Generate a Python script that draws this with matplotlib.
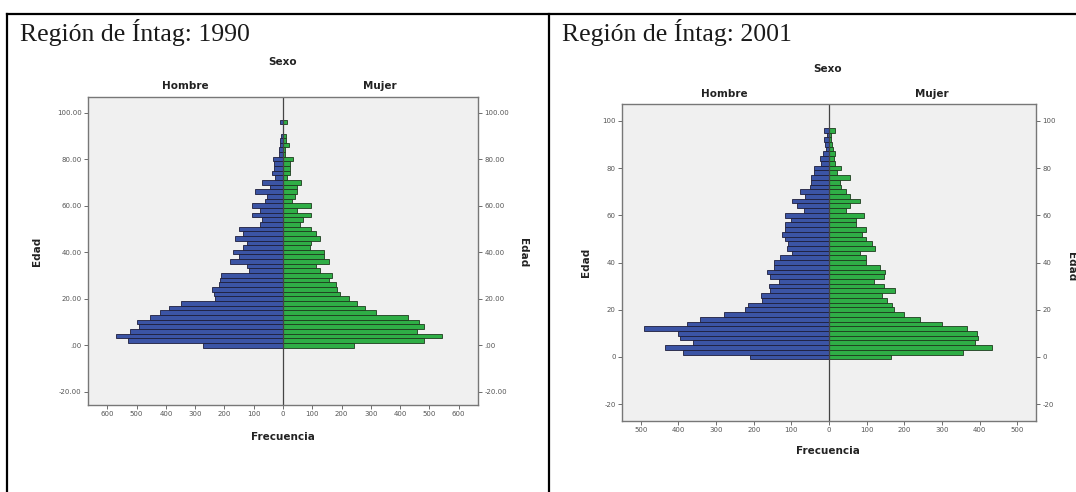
import numpy as np
import matplotlib
matplotlib.use('Agg')
import matplotlib.pyplot as plt
from matplotlib.lines import Line2D

# edades (centro de cada barra, intervalos de 2 años)
edades = list(range(0, 98, 2))

# Region de Intag 1990
hombre_1990 = [273, 529, 570, 524, 493, 498, 453, 419, 390, 350,
               233, 234, 241, 217, 214, 212, 117, 123, 180, 151,
               171, 137, 123, 165, 137, 151, 77, 72, 106, 77,
               106, 60, 55, 97, 43, 72, 26, 38, 30, 32,
               34, 15, 15, 11, 9, 7, 0, 0, 9]
mujer_1990 = [241, 483, 543, 457, 483, 463, 427, 317, 281, 253,
              224, 196, 184, 182, 156, 167, 127, 114, 156, 139,
              141, 91, 96, 127, 114, 97, 57, 68, 97, 48,
              97, 31, 42, 48, 48, 63, 14, 23, 25, 23,
              34, 8, 8, 19, 10, 10, 0, 0, 14]

# Region de Intag 2001
hombre_2001 = [209, 388, 437, 362, 397, 402, 491, 378, 344, 280,
               223, 214, 178, 181, 156, 159, 134, 158, 165, 145,
               145, 129, 98, 112, 110, 116, 125, 118, 116, 101,
               116, 67, 85, 98, 63, 78, 50, 48, 48, 39,
               41, 21, 25, 16, 7, 10, 12, 5, 14]
mujer_2001 = [165, 356, 434, 387, 395, 392, 367, 300, 243, 200,
              172, 168, 154, 141, 176, 145, 119, 145, 150, 135,
              98, 99, 83, 123, 114, 97, 88, 98, 73, 73,
              92, 46, 57, 82, 57, 44, 32, 30, 57, 21,
              32, 17, 12, 15, 11, 8, 5, 4, 17]

azul = '#3b54a5'
verde = '#2fae46'
W, H = 1076, 492

fig = plt.figure(figsize=(W / 100, H / 100), dpi=100)


def px(x, y):
    return x / W, 1 - y / H


def piramide(rect, hombre, mujer, xmax, xticks, ylim, fmt):
    ax = fig.add_axes(rect)
    ax.set_facecolor('#f0f0f0')
    ax.barh(edades, [-v for v in hombre], height=2, color=azul,
            edgecolor='#1e1e3c', linewidth=0.6)
    ax.barh(edades, mujer, height=2, color=verde,
            edgecolor='#1e3c1e', linewidth=0.6)
    ax.axvline(0, color='#444444', linewidth=0.9)
    ax.set_xlim(-xmax, xmax)
    ax.set_ylim(*ylim)
    ax.set_xticks(xticks)
    ax.set_xticklabels([str(abs(v)) for v in xticks])
    yt = [-20, 0, 20, 40, 60, 80, 100]
    ax.set_yticks(yt)
    ax.set_yticklabels([fmt(v) for v in yt])
    ax.tick_params(axis='both', labelsize=5, colors='#555555', length=3,
                   width=0.6, pad=1.5)
    ax.tick_params(axis='y', right=True, labelright=True)
    for s in ax.spines.values():
        s.set_color('#777777')
        s.set_linewidth(1.0)
    return ax


def fmt_1990(v):
    return '.00' if v == 0 else f'{v:.2f}'


def fmt_2001(v):
    return str(v)


# panel 1990
x0, y1 = px(88, 405)
x1, y0 = px(478, 97)
piramide([x0, y1, x1 - x0, y0 - y1], hombre_1990, mujer_1990, 666,
         [-600, -500, -400, -300, -200, -100, 0, 100, 200, 300, 400, 500, 600],
         (-25.7, 106.7), fmt_1990)

# panel 2001
x0, y1 = px(622, 421)
x1, y0 = px(1036, 104)
piramide([x0, y1, x1 - x0, y0 - y1], hombre_2001, mujer_2001, 550,
         [-500, -400, -300, -200, -100, 0, 100, 200, 300, 400, 500],
         (-27.1, 107.1), fmt_2001)

# textos
bold = dict(fontsize=7.5, fontweight='bold', color='#222222',
            ha='center', va='center', family='DejaVu Sans')
titulo = dict(fontsize=18.5, family='Liberation Serif', color='#1a1a1a',
              ha='left', va='center')

fig.text(*px(20, 32), 'Región de Íntag: 1990', **titulo)
fig.text(*px(562, 32), 'Región de Íntag: 2001', **titulo)

fig.text(*px(283, 62), 'Sexo', **bold)
fig.text(*px(185, 86), 'Hombre', **bold)
fig.text(*px(380, 86), 'Mujer', **bold)
fig.text(*px(283, 437), 'Frecuencia', **bold)
fig.text(*px(37, 251), 'Edad', rotation=90, **bold)
fig.text(*px(523, 253), 'Edad', rotation=-90, **bold)

fig.text(*px(828, 69), 'Sexo', **bold)
fig.text(*px(724, 94), 'Hombre', **bold)
fig.text(*px(932, 94), 'Mujer', **bold)
fig.text(*px(828, 451), 'Frecuencia', **bold)
fig.text(*px(586, 262), 'Edad', rotation=90, **bold)
fig.text(*px(1071, 267), 'Edad', rotation=-90, **bold)

# marco de la tabla
borde = dict(color='black', linewidth=1.6, transform=fig.transFigure)
fig.add_artist(Line2D([7 / W, 1], [1 - 14 / H, 1 - 14 / H], **borde))
fig.add_artist(Line2D([7 / W, 7 / W], [0, 1 - 14 / H], **borde))
fig.add_artist(Line2D([549 / W, 549 / W], [0, 1 - 14 / H], **borde))

fig.savefig('out.png', dpi=100)
